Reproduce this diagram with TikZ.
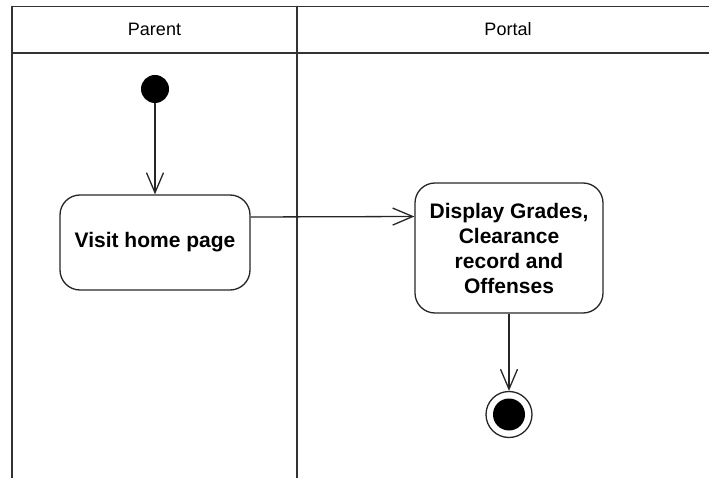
\documentclass[tikz,border=0pt]{standalone}
\usepackage{fontspec}
\setmainfont{Liberation Sans}
\usepackage{tikz}
\usetikzlibrary{arrows.meta,positioning}
\usepackage{tkz-euclide}

\tikzset{
  lane/.style={draw=black!80,line width=1.5pt},
  activity/.style={draw=black!85,line width=1.3pt,rounded corners=20pt,align=center,
    inner sep=0pt,font=\fontsize{21}{25}\selectfont\bfseries},
  flow/.style={draw=black!85,line width=1.3pt,-{Straight Barb[length=20pt,width=17pt,line width=1.3pt]}},
  startstate/.style={circle,fill=black,minimum size=28pt,inner sep=0pt},
  endstate/.style={circle,draw=black!85,line width=1.3pt,minimum size=46pt,inner sep=0pt,
    path picture={\fill (path picture bounding box.center) circle (16pt);}},
  lanetitle/.style={font=\fontsize{18}{20}\selectfont}
}

\begin{document}
\begin{tikzpicture}[x=1pt,y=-1pt]
        \useasboundingbox (0,0) rectangle (709,478);
        \tkzDefPoint(12,6.5){TL} \tkzDefPoint(709,6.5){TR}
        \tkzDefPoint(12,53){HL} \tkzDefPoint(709,53){HR}
        \tkzDefPoint(297,6.5){MT} \tkzDefPoint(297,478){MB}
        \tkzDefPoint(12,478){BL}

        \tkzDrawSegments[lane](TL,TR HL,HR TL,BL MT,MB)
        \node[lanetitle] (parent) at (154.5,29) {Parent};
        \node[lanetitle] (portal) at (508,29) {Portal};

        \node[startstate] (start) at (155,89) {};
        \node[activity,minimum width=190pt,minimum height=95pt] (visit) at (155,242.5) {Visit home page};
        \node[activity,minimum width=188pt,minimum height=130pt] (display) at (509,248)
          {Display Grades,\\Clearance\\record and\\Offenses};
        \node[endstate] (finish) at (509,414.5) {};

        \draw[flow] (start) -- (visit);
        \draw[flow] ([yshift=25.5pt]visit.east) -- ([yshift=31.5pt]display.west);
        \draw[flow] (display) -- (finish);
    \end{tikzpicture}
\end{document}
